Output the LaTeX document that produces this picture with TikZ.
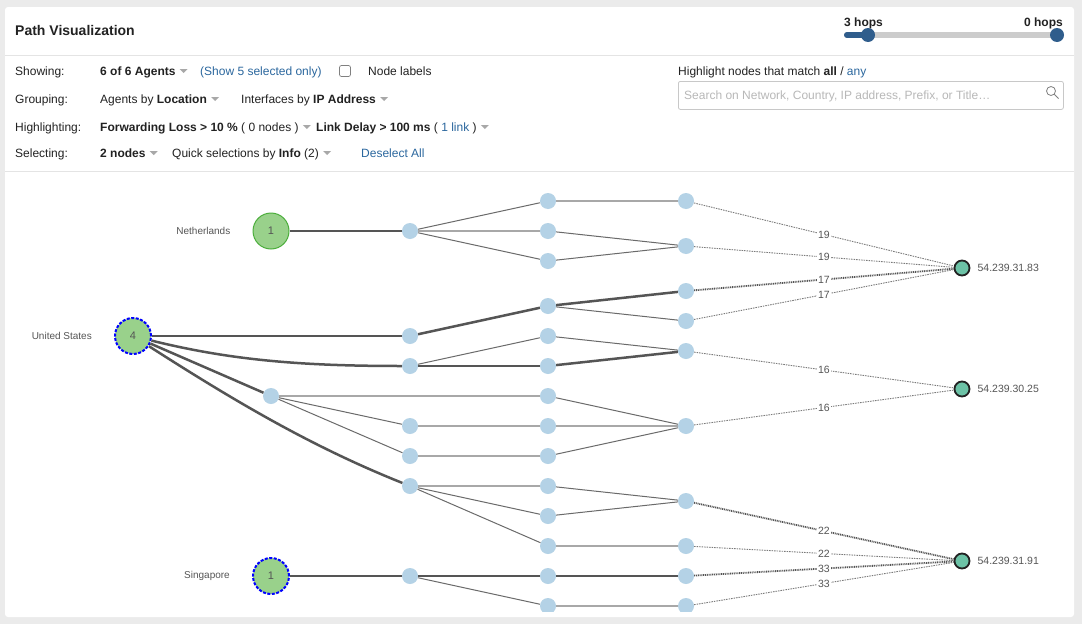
\documentclass[tikz,border=0pt]{standalone}
\usepackage{fontspec}
\setmainfont{Liberation Sans}
\usetikzlibrary{positioning,calc}

\definecolor{bggray}{HTML}{EBEBEB}
\definecolor{sepgray}{HTML}{E4E4E4}
\definecolor{txt}{HTML}{222222}
\definecolor{linkblue}{HTML}{2B679E}
\definecolor{slideblue}{HTML}{2F5D8C}
\definecolor{trackgray}{HTML}{CCCCCC}
\definecolor{boxgray}{HTML}{C8C8C8}
\definecolor{placegray}{HTML}{B8B8B8}
\definecolor{caretgray}{HTML}{A8A8A8}
\definecolor{agentgreen}{HTML}{99D18B}
\definecolor{agentedge}{HTML}{4CAE3C}
\definecolor{ifblue}{HTML}{B4D2E6}
\definecolor{destgreen}{HTML}{6CC2A6}
\definecolor{darkline}{HTML}{555555}
\definecolor{midline}{HTML}{6A6A6A}
\definecolor{lightline}{HTML}{A8A8A8}
\definecolor{hopgray}{HTML}{7A7A7A}

\newcommand\pxsize[1]{\fontsize{#1}{#1}\selectfont}
\newcommand\dropcaret[1]{\fill[caretgray] ($(#1.base east)+(4,-6)$) -- ++(8,0) -- ++(-4,4) -- cycle;}

\begin{document}
\begin{tikzpicture}[x=1pt, y=-1pt,
    every node/.style={text=txt, inner sep=0pt},
    row/.style={anchor=base west, font=\pxsize{12}},
    agent/.style={circle, fill=agentgreen, minimum size=36pt, font=\pxsize{11}, text=darkline},
    picked/.style={draw=blue, line width=2pt, dash pattern=on 3pt off 1.5pt},
    iface/.style={circle, fill=ifblue, minimum size=16pt},
    dest/.style={circle, fill=destgreen, draw=txt, line width=1.8pt, minimum size=15pt},
    place/.style={font=\pxsize{10}, text=darkline},
    heavy/.style={darkline, line width=2.5pt},
    thin/.style={midline, line width=1pt},
    light/.style={lightline, line width=2.2pt},
    hop/.style={hopgray, line width=0.9pt, dash pattern=on 1.5pt off 1pt},
    hopheavy/.style={darkline, line width=1.8pt, dash pattern=on 1pt off 0.8pt},
    hoplbl/.style={fill=white, inner sep=1pt, font=\pxsize{10.5}, text=darkline}]

    \useasboundingbox (0,0) rectangle (1082,624);
    \fill[bggray] (0,0) rectangle (1082,624);
    \fill[white, rounded corners=3pt] (5,7) rectangle (1074,617);
    \draw[sepgray, line width=1pt] (5,55) -- (1074,55);
    \draw[sepgray, line width=1pt] (5,171) -- (1074,171);

    % Naglowek
    \node[anchor=base west, font=\pxsize{14}\bfseries] (title) at (15,35) {Path Visualization};
    \node[anchor=base west, font=\pxsize{12}\bfseries] (hopmin) at (844,26) {3 hops};
    \node[anchor=base east, font=\pxsize{12}\bfseries] (hopmax) at (1063,26) {0 hops};
    \draw[trackgray, line width=6pt, line cap=round] (847,35) -- (1057,35);
    \draw[slideblue, line width=6pt, line cap=round] (847,35) -- (868,35);
    \node[circle, fill=slideblue, minimum size=14pt] (knoba) at (868,35) {};
    \node[circle, fill=slideblue, minimum size=14pt] (knobb) at (1057,35) {};

    % Opcje
    \node[row] (showing) at (15,75) {Showing:};
    \node[row] (agents) at (100,75) {\bfseries 6 of 6 Agents};
    \dropcaret{agents}
    \node[row, text=linkblue] (showsel) at (200,75) {(Show 5 selected only)};
    \node[draw=gray, line width=0.7pt, rounded corners=2pt, minimum size=11pt] (check) at (345,71) {};
    \node[row] (nodelbl) at (368,75) {Node labels};

    \node[row] (grouping) at (15,103) {Grouping:};
    \node[row] (agentsby) at (100,103) {Agents by \textbf{Location}};
    \dropcaret{agentsby}
    \node[row] (ifby) at (241,103) {Interfaces by \textbf{IP Address}};
    \dropcaret{ifby}

    \node[row] (highlighting) at (15,131) {Highlighting:};
    \node[row] (fwdloss) at (100,131) {\textbf{Forwarding Loss > 10 \%} ( 0 nodes )};
    \dropcaret{fwdloss}
    \node[row] (linkdelay) at (316,131) {\textbf{Link Delay > 100 ms} ( {\color{linkblue}1 link} )};
    \dropcaret{linkdelay}

    \node[row] (selecting) at (15,157) {Selecting:};
    \node[row] (twonodes) at (100,157) {\bfseries 2 nodes};
    \dropcaret{twonodes}
    \node[row] (quick) at (172,157) {Quick selections by \textbf{Info} (2)};
    \dropcaret{quick}
    \node[row, text=linkblue] (deselect) at (361,157) {Deselect All};

    % Wyszukiwanie
    \node[row] (matchlbl) at (678,75) {Highlight nodes that match \textbf{all} / {\color{linkblue}any}};
    \node[draw=boxgray, line width=0.8pt, rounded corners=2pt, minimum width=385pt, minimum height=28pt, anchor=north west] (search) at (678,81) {};
    \node[row, text=placegray] (placeholder) at (684,99.5) {Search on Network, Country, IP address, Prefix, or Title…};
    \draw[gray, line width=0.8pt] (1051,91) circle (4.5);
    \draw[gray, line width=0.9pt] (1054.3,94.3) -- (1058.5,98.5);

    \begin{scope}
    \clip (5,172) rectangle (1074,611);

    % Agenci
    \node[agent, draw=agentedge, line width=1pt] (nl) at (271,231) {1};
    \node[agent, picked] (us) at (133,336) {4};
    \node[agent, picked] (sg) at (271,576) {1};
    \node[place, left=22pt of nl] (nllbl) {Netherlands};
    \node[place, left=22pt of us] (uslbl) {United States};
    \node[place, left=22pt of sg] (sglbl) {Singapore};

    % Interfejsy
    \node[iface] (hub) at (271,396) {};
    \foreach \y in {231,336,366,426,456,486,576}
        \node[iface] (a\y) at (410,\y) {};
    \foreach \y in {201,231,261,306,336,366,396,426,456,486,516,546,576,606}
        \node[iface] (b\y) at (548,\y) {};
    \foreach \y in {201,246,291,321,351,426,501,546,576,606}
        \node[iface] (c\y) at (686,\y) {};

    % Cele
    \node[dest] (d1) at (962,268) {};
    \node[dest] (d2) at (962,389) {};
    \node[dest] (d3) at (962,561) {};
    \node[place, font=\pxsize{10.5}, right=7pt of d1] (d1lbl) {54.239.31.83};
    \node[place, font=\pxsize{10.5}, right=7pt of d2] (d2lbl) {54.239.30.25};
    \node[place, font=\pxsize{10.5}, right=7pt of d3] (d3lbl) {54.239.31.91};

    % Polaczenia
    \foreach \s/\t in {a231/b231, b201/c201, hub/b396, a426/b426, b426/c426, a456/b456, a486/b486, b546/c546, b606/c606}
        \draw[light] (\s) -- (\t);
    \foreach \s/\t in {a231/b201, a231/b261, b231/c246, b261/c246, b306/c321, a366/b336, b336/c351, b396/c426, b456/c426, a486/b516, a486/b546, b486/c501, b516/c501, a576/b606, hub/a426, hub/a456}
        \draw[thin] (\s) -- (\t);
    \foreach \s/\t in {nl/a231, us/a336, us/hub, a336/b306, b306/c291, a366/b366, b366/c351, sg/a576, a576/b576, b576/c576}
        \draw[heavy] (\s) -- (\t);
    \draw[heavy] (us) .. controls +(97,24) and +(-110,0) .. (a366);
    \draw[heavy] (us) .. controls +(100,64) and +(-100,-40) .. (a486);

    % Skoki
    \foreach \s/\t/\n in {c201/d1/19, c246/d1/19, c321/d1/17, c351/d2/16, c426/d2/16, c546/d3/22, c606/d3/33}
        \draw[hop] (\s) -- node[hoplbl] {\n} (\t);
    \foreach \s/\t/\n in {c291/d1/17, c501/d3/22, c576/d3/33}
        \draw[hopheavy] (\s) -- node[hoplbl] {\n} (\t);
    \end{scope}
\end{tikzpicture}
\end{document}
